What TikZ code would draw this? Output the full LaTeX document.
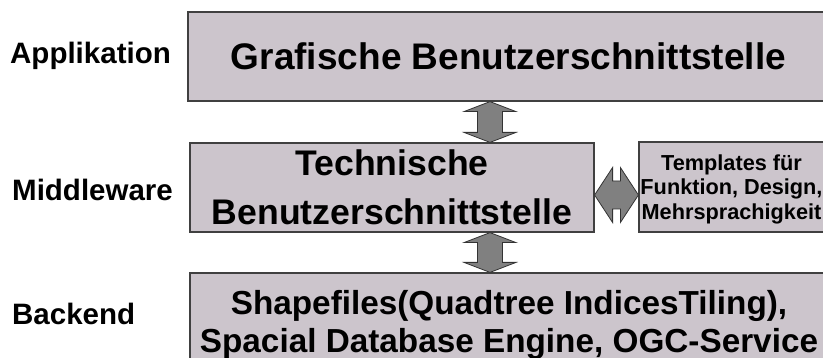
\documentclass[tikz,border=0pt]{standalone}
\usepackage{fontspec}
\setmainfont{Liberation Sans}
\usetikzlibrary{calc}
\definecolor{boxfill}{RGB}{204,197,204}
\definecolor{boxline}{RGB}{64,64,64}
\definecolor{arrfill}{RGB}{128,128,128}
% fat double arrows, tip to tip
\newcommand\vfat[2]{\draw[fatarr] (#1) -- ++(26,10) -- ++(-13.5,0) -- ($(#2)+(12.5,-10)$) -- ++(13.5,0) -- (#2) -- ++(-26,-10) -- ++(13.5,0) -- ($(#1)+(-12.5,10)$) -- ++(-13.5,0) -- cycle;}
\newcommand\hfat[2]{\draw[fatarr] (#1) -- ++(18,-27.5) -- ++(0,13.5) -- ($(#2)+(-18,-14)$) -- ++(0,-13.5) -- (#2) -- ++(-18,27.5) -- ++(0,-13.5) -- ($(#1)+(18,14)$) -- ++(0,13.5) -- cycle;}
\begin{document}
\begin{tikzpicture}[x=1pt,y=-1pt,line join=miter,
  layer/.style={draw=boxline,fill=boxfill,line width=1.2pt,inner sep=0pt,align=center,text depth=0pt},
  fatarr/.style={draw=black!80,fill=arrfill,line width=.8pt},
  side/.style={anchor=base west,inner sep=0pt,font=\fontsize{29.5}{34}\selectfont\bfseries}]
\useasboundingbox (0,0) rectangle (823,358);
\node[layer,minimum width=641,minimum height=89,font=\fontsize{37}{44}\selectfont\bfseries] (gui) at (508.5,56.5) {Grafische Benutzerschnittstelle};
\node[layer,minimum width=404,minimum height=89,font=\fontsize{35.6}{49}\selectfont\bfseries] (tech) at (392,187.5) {Technische\\Benutzerschnittstelle};
\node[layer,minimum width=185,minimum height=90,font=\fontsize{21.7}{24.5}\selectfont\bfseries] (templ) at (731.5,187) {Templates für\\Funktion, Design,\\Mehrsprachigkeit};
\node[layer,minimum width=638,minimum height=96,font=\fontsize{33.3}{38}\selectfont\bfseries] (back) at (509,321) {Shapefiles(Quadtree IndicesTiling),\\Spacial Database Engine, OGC-Service};
\node[side] (app) at (10,64) {Applikation};
\node[side] (mid) at (12,201) {Middleware};
\node[side] (bck) at (12,325) {Backend};
\coordinate (a1t) at (gui.south -| 490,0);
\coordinate (a1b) at (tech.north -| 490,0);
\coordinate (a2t) at (tech.south -| 490,0);
\coordinate (a2b) at (back.north -| 490,0);
\coordinate (a3l) at (tech.east |- 0,195);
\coordinate (a3r) at (templ.west |- 0,195);
\vfat{a1t}{a1b}
\vfat{a2t}{a2b}
\hfat{a3l}{a3r}
\end{tikzpicture}
\end{document}
